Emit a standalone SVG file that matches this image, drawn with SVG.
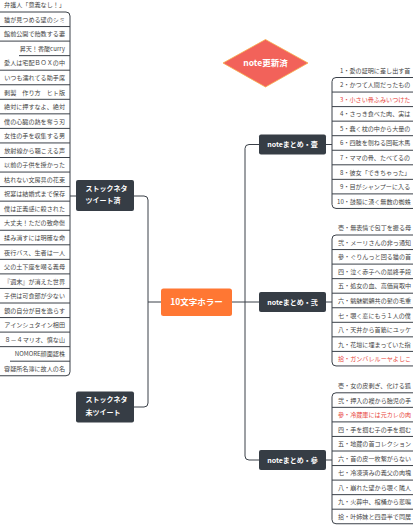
<svg xmlns="http://www.w3.org/2000/svg" width="413" height="525" viewBox="0 0 413 525">
<style>
.ln{fill:none;stroke:#3b4149;stroke-width:1}
.lf{font-family:"Noto Sans CJK JP","Noto Sans",sans-serif;font-size:6.1px;fill:#454545}
.le{text-anchor:end}
.red{fill:#e8463c}
.nd{fill:#363d45}
.nt{font-family:"Noto Sans CJK JP","Noto Sans",sans-serif;font-size:7px;font-weight:bold;fill:#ffffff}
.mid{text-anchor:middle}
</style>
<rect width="413" height="525" fill="#ffffff"/>
<g id="connectors">
<!-- center to right trunk -->
<path class="ln" d="M232 302 L245 302"/>
<path class="ln" d="M259 144.5 L249 144.5 Q245 144.5 245 148.5 L245 456 Q245 460 249 460 L259 460"/>
<path class="ln" d="M245 302 L259 302"/>
<!-- center to left trunk -->
<path class="ln" d="M161 302 L148 302"/>
<path class="ln" d="M134 196 L144 196 Q148 196 148 200 L148 403 Q148 407 144 407 L134 407"/>
<!-- left leaves trunk -->
<path class="ln" d="M76 196 L70 196"/>
<path class="ln" d="M66 12 Q70 12 70 16 L70 371.75 Q70 375.75 66 375.75"/>
<!-- right group trunks -->
<path class="ln" d="M326 144.5 L332 144.5"/>
<path class="ln" d="M336 77.5 Q332 77.5 332 81.5 L332 204.45 Q332 208.45 336 208.45"/>
<path class="ln" d="M326 302 L332 302"/>
<path class="ln" d="M336 235 Q332 235 332 239 L332 361.95 Q332 365.95 336 365.95"/>
<path class="ln" d="M326 460 L332 460"/>
<path class="ln" d="M336 392.8 Q332 392.8 332 396.8 L332 519.75 Q332 523.75 336 523.75"/>
</g>
<g id="center">
<rect x="161" y="288.5" width="71" height="27.5" rx="2.5" fill="#ff7733"/>
<text class="nt mid" x="196.5" y="305.2" style="font-size:8.5px">10文字ホラー</text>
</g>
<g id="note-updated">
<polygon points="265.5,39.5 308,63 265.5,87 223,63" fill="#f2625a" stroke="#f7b04c" stroke-width="0.8"/>
<text class="nt mid" x="265.5" y="66" style="font-size:8.5px">note更新済</text>
</g>
<g id="stock-tweeted">
<rect class="nd" x="76" y="180" width="58" height="31" rx="2"/>
<text class="nt" x="85.5" y="190.7">ストックネタ</text>
<text class="nt" x="85.5" y="203.1">ツイート済</text>
</g>
<g id="stock-untweeted">
<rect class="nd" x="76" y="391.5" width="58" height="31" rx="2"/>
<text class="nt" x="85.5" y="402.2">ストックネタ</text>
<text class="nt" x="85.5" y="414.6">未ツイート</text>
</g>
<g id="note1">
<rect class="nd" x="259" y="134.5" width="67" height="20" rx="2"/>
<text class="nt mid" x="292.5" y="147">noteまとめ・壹</text>
</g>
<g id="note2">
<rect class="nd" x="259" y="292" width="67" height="20" rx="2"/>
<text class="nt mid" x="292.5" y="304.5">noteまとめ・弐</text>
</g>
<g id="note3">
<rect class="nd" x="259" y="450" width="67" height="20" rx="2"/>
<text class="nt mid" x="292.5" y="462.5">noteまとめ・參</text>
</g>
<g id="left-leaves">
<path class="ln" d="M0 12H66 M0 26.55H70 M0 41.1H70 M19 55.65H70 M0 70.2H70 M0 84.75H70 M0 99.3H70 M0 113.85H70 M0 128.4H70 M0 142.95H70 M0 157.5H70 M0 172.05H70 M0 186.6H70 M0 201.15H70 M0 215.7H70 M0 230.25H70 M0 244.8H70 M0 259.35H70 M0 273.9H70 M0 288.45H70 M0 303H70 M0 317.55H70 M0 332.1H70 M0 346.65H70 M10 361.2H70 M0 375.75H66"/>
<text class="lf le" x="65" y="7.2">弁護人「意義なし！」</text>
<text class="lf le" x="65" y="21.75">猫が見つめる壁のシミ</text>
<text class="lf le" x="65" y="36.3">館前公開で飴教する妻</text>
<text class="lf le" x="65" y="50.85">昇天！香酸curry</text>
<text class="lf le" x="65" y="65.4">愛人は宅配ＢＯＸの中</text>
<text class="lf le" x="65" y="79.95">いつも濡れてる助手席</text>
<text class="lf le" x="65" y="94.5">剥製　作り方　ヒト版</text>
<text class="lf le" x="65" y="109.05">絶対に押すなよ、絶対</text>
<text class="lf le" x="65" y="123.6">僕の心臓の熱を奪う刃</text>
<text class="lf le" x="65" y="138.15">女性の手を収集する男</text>
<text class="lf le" x="65" y="152.7">放射線から聴こえる声</text>
<text class="lf le" x="65" y="167.25">以前の子供を授かった</text>
<text class="lf le" x="65" y="181.8">枯れない文房具の花束</text>
<text class="lf le" x="65" y="196.35">祝宴は結婚式まで保存</text>
<text class="lf le" x="65" y="210.9">僕は正義感に殺された</text>
<text class="lf le" x="65" y="225.45">大丈夫！ただの致命傷</text>
<text class="lf le" x="65" y="240">揉み消すには明確な命</text>
<text class="lf le" x="65" y="254.55">夜行バス、生者は一人</text>
<text class="lf le" x="65" y="269.1">父の土下座を嘲る義母</text>
<text class="lf le" x="65" y="283.65">『週末』が消えた世界</text>
<text class="lf le" x="65" y="298.2">子供は可食部が少ない</text>
<text class="lf le" x="65" y="312.75">鏡の自分が目を逸らす</text>
<text class="lf le" x="65" y="327.3">アインシュタイン相田</text>
<text class="lf le" x="65" y="341.85">８－４マリオ、慎な山</text>
<text class="lf le" x="65" y="356.4">NOMORE顔面認株</text>
<text class="lf le" x="65" y="370.95">容疑所名簿に故人の名</text>
</g>
<g id="note1-leaves">
<path class="ln" d="M336 77.5H413 M332 92.05H413 M332 106.6H413 M332 121.15H413 M332 135.7H413 M332 150.25H413 M332 164.8H413 M332 179.35H413 M332 193.9H413 M336 208.45H413"/>
<text class="lf" x="340" y="72.7">1・愛の証明に差し出す首</text>
<text class="lf" x="340" y="87.25">2・かつて人間だったもの</text>
<text class="lf red" x="340" y="101.8">3・小さい骨ふみいつけた</text>
<text class="lf" x="340" y="116.35">4・さっき食べた肉、実は</text>
<text class="lf" x="340" y="130.9">5・蠢く枕の中から大量の</text>
<text class="lf" x="340" y="145.45">6・四肢を刎ねる回転木馬</text>
<text class="lf" x="340" y="160">7・ママの骨、たべてるの</text>
<text class="lf" x="340" y="174.55">8・彼女「できちゃった」</text>
<text class="lf" x="340" y="189.1">9・目がシャンプーに入る</text>
<text class="lf" x="337" y="203.65">10・鼓膜に湧く無数の蜘蛛</text>
</g>
<g id="note2-leaves">
<path class="ln" d="M336 235H413 M332 249.55H413 M332 264.1H413 M332 278.65H413 M332 293.2H413 M332 307.75H413 M332 322.3H413 M332 336.85H413 M332 351.4H413 M336 365.95H413"/>
<text class="lf" x="338" y="230.2">壱・無表情で包丁を振る母</text>
<text class="lf" x="338" y="244.75">弐・メーリさんの非っ通知</text>
<text class="lf" x="338" y="259.3">參・ぐりんっと回る猫の首</text>
<text class="lf" x="338" y="273.85">四・泣く赤子への最終手段</text>
<text class="lf" x="338" y="288.4">五・処女の血、高価買取中</text>
<text class="lf" x="338" y="302.95">六・魑魅魍魎共の髪の毛重</text>
<text class="lf" x="338" y="317.5">七・覗く窓にもう１人の僕</text>
<text class="lf" x="338" y="332.05">八・天井から首筋にユッケ</text>
<text class="lf" x="338" y="346.6">九・花壇に埋まっていた指</text>
<text class="lf red" x="338" y="361.15">拾・ガンバレルーヤよしこ</text>
</g>
<g id="note3-leaves">
<path class="ln" d="M336 392.8H413 M332 407.35H413 M332 421.9H413 M332 436.45H413 M332 451H413 M332 465.55H413 M332 480.1H413 M332 494.65H413 M332 509.2H413 M336 523.75H413"/>
<text class="lf" x="338" y="388">壱・女の皮剥ぎ、化ける狐</text>
<text class="lf" x="338" y="402.55">弐・押入の襖から胎児の手</text>
<text class="lf red" x="338" y="417.1">參・冷蔵庫には元カレの肉</text>
<text class="lf" x="338" y="431.65">四・手を掴む子の手を掴む</text>
<text class="lf" x="338" y="446.2">五・地蔵の首コレクション</text>
<text class="lf" x="338" y="460.75">六・首の皮一枚繋がらない</text>
<text class="lf" x="338" y="475.3">七・冷凍済みの義父の肉塊</text>
<text class="lf" x="338" y="489.85">八・崩れた壁から覗く隣人</text>
<text class="lf" x="338" y="504.4">九・火葬中、棺桶から悲鳴</text>
<text class="lf" x="338" y="518.95">拾・叶姉妹と四畳半で同居</text>
</g>
</svg>
